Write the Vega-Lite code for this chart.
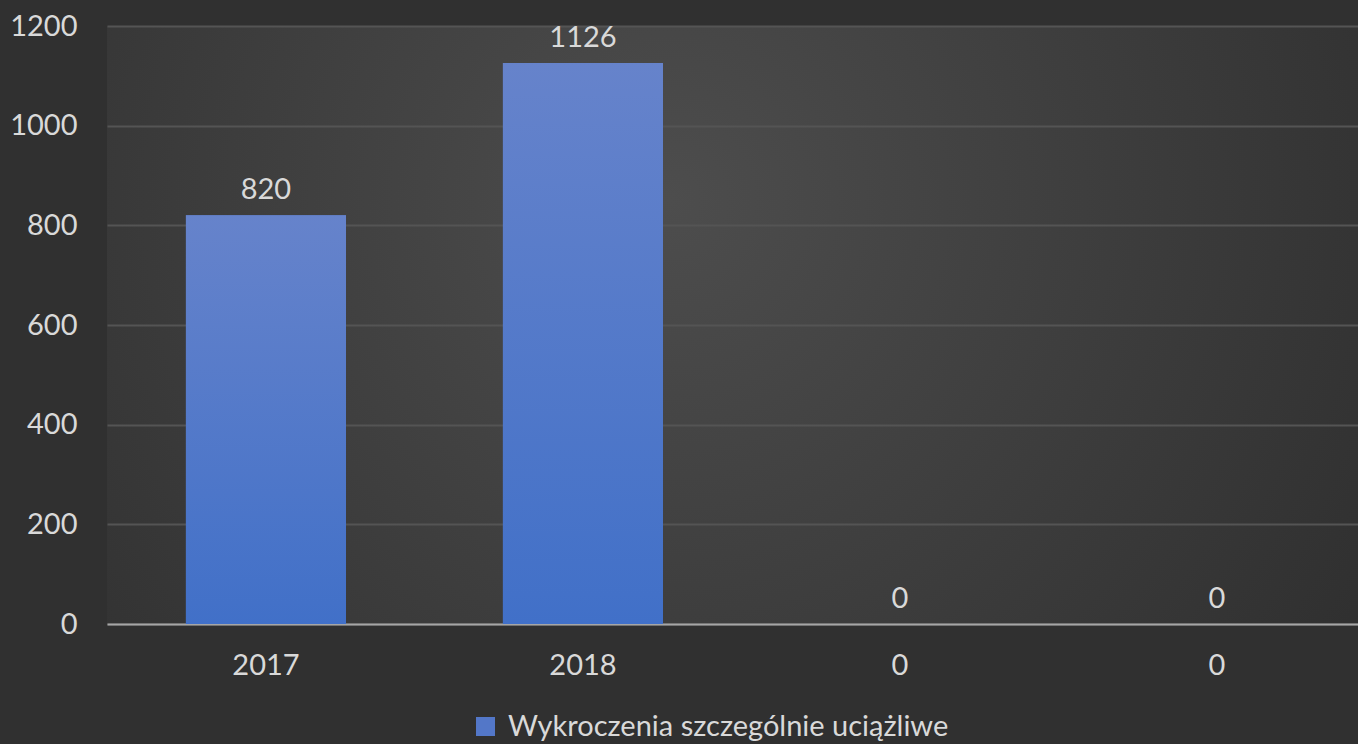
{
  "$schema": "https://vega.github.io/schema/vega-lite/v6.json",
  "width": 1251,
  "height": 598,
  "autosize": {"type": "none"},
  "padding": {"left": 107, "top": 26, "right": 0, "bottom": 120},
  "background": "#303030",
  "config": {
    "view": {
      "stroke": null,
      "fill": {
        "gradient": "radial",
        "x1": 0.45, "y1": 0.4, "r1": 0,
        "x2": 0.45, "y2": 0.4, "r2": 0.75,
        "stops": [
          {"offset": 0, "color": "#4d4d4d"},
          {"offset": 1, "color": "#2b2b2b"}
        ]
      }
    },
    "font": "Lato"
  },
  "data": {
    "values": [
      {"cat": "2017", "value": 820, "series": "Wykroczenia szczególnie uciążliwe"},
      {"cat": "2018", "value": 1126, "series": "Wykroczenia szczególnie uciążliwe"},
      {"cat": "c3", "value": 0, "series": "Wykroczenia szczególnie uciążliwe"},
      {"cat": "c4", "value": 0, "series": "Wykroczenia szczególnie uciążliwe"}
    ]
  },
  "encoding": {
    "x": {
      "field": "cat",
      "type": "nominal",
      "sort": null,
      "scale": {"paddingInner": 0.495, "paddingOuter": 0.2207, "align": 0.564},
      "axis": {
        "title": null,
        "labelAngle": 0,
        "labelExpr": "datum.value == 'c3' || datum.value == 'c4' ? '0' : datum.value",
        "labelFont": "Lato",
        "labelFontSize": 29,
        "labelColor": "#d9d9d9",
        "labelPadding": 27,
        "ticks": false,
        "domainColor": "#a6a6a6",
        "domainWidth": 2,
        "grid": false
      }
    },
    "y": {
      "field": "value",
      "type": "quantitative",
      "scale": {"domain": [0, 1200], "nice": false},
      "axis": {
        "title": null,
        "format": "d",
        "values": [0, 200, 400, 600, 800, 1000, 1200],
        "labelFont": "Lato",
        "labelFontSize": 29,
        "labelColor": "#d9d9d9",
        "labelPadding": 30,
        "ticks": false,
        "domain": false,
        "gridColor": "#545454",
        "gridWidth": 2
      }
    }
  },
  "layer": [
    {
      "mark": {"type": "bar"},
      "encoding": {
        "color": {
          "field": "series",
          "type": "nominal",
          "scale": {"range": ["#5377c8"]},
          "legend": {
            "title": null,
            "orient": "none",
            "legendX": 364,
            "legendY": 686,
            "symbolType": "square",
            "symbolSize": 361,
            "symbolStrokeWidth": 0,
            "labelFont": "Lato",
            "labelFontSize": 29,
            "labelColor": "#d9d9d9",
            "labelOffset": 8,
            "labelLimit": 800
          }
        }
      }
    },
    {
      "mark": {
        "type": "bar",
        "fill": {
          "gradient": "linear",
          "x1": 0, "y1": 0, "x2": 0, "y2": 1,
          "stops": [
            {"offset": 0, "color": "#6683cb"},
            {"offset": 1, "color": "#4170c8"}
          ]
        }
      }
    },
    {
      "mark": {
        "type": "text",
        "baseline": "alphabetic",
        "dy": -16,
        "font": "Lato",
        "fontSize": 29,
        "color": "#d9d9d9"
      },
      "encoding": {
        "text": {"field": "value", "type": "quantitative"}
      }
    }
  ]
}
